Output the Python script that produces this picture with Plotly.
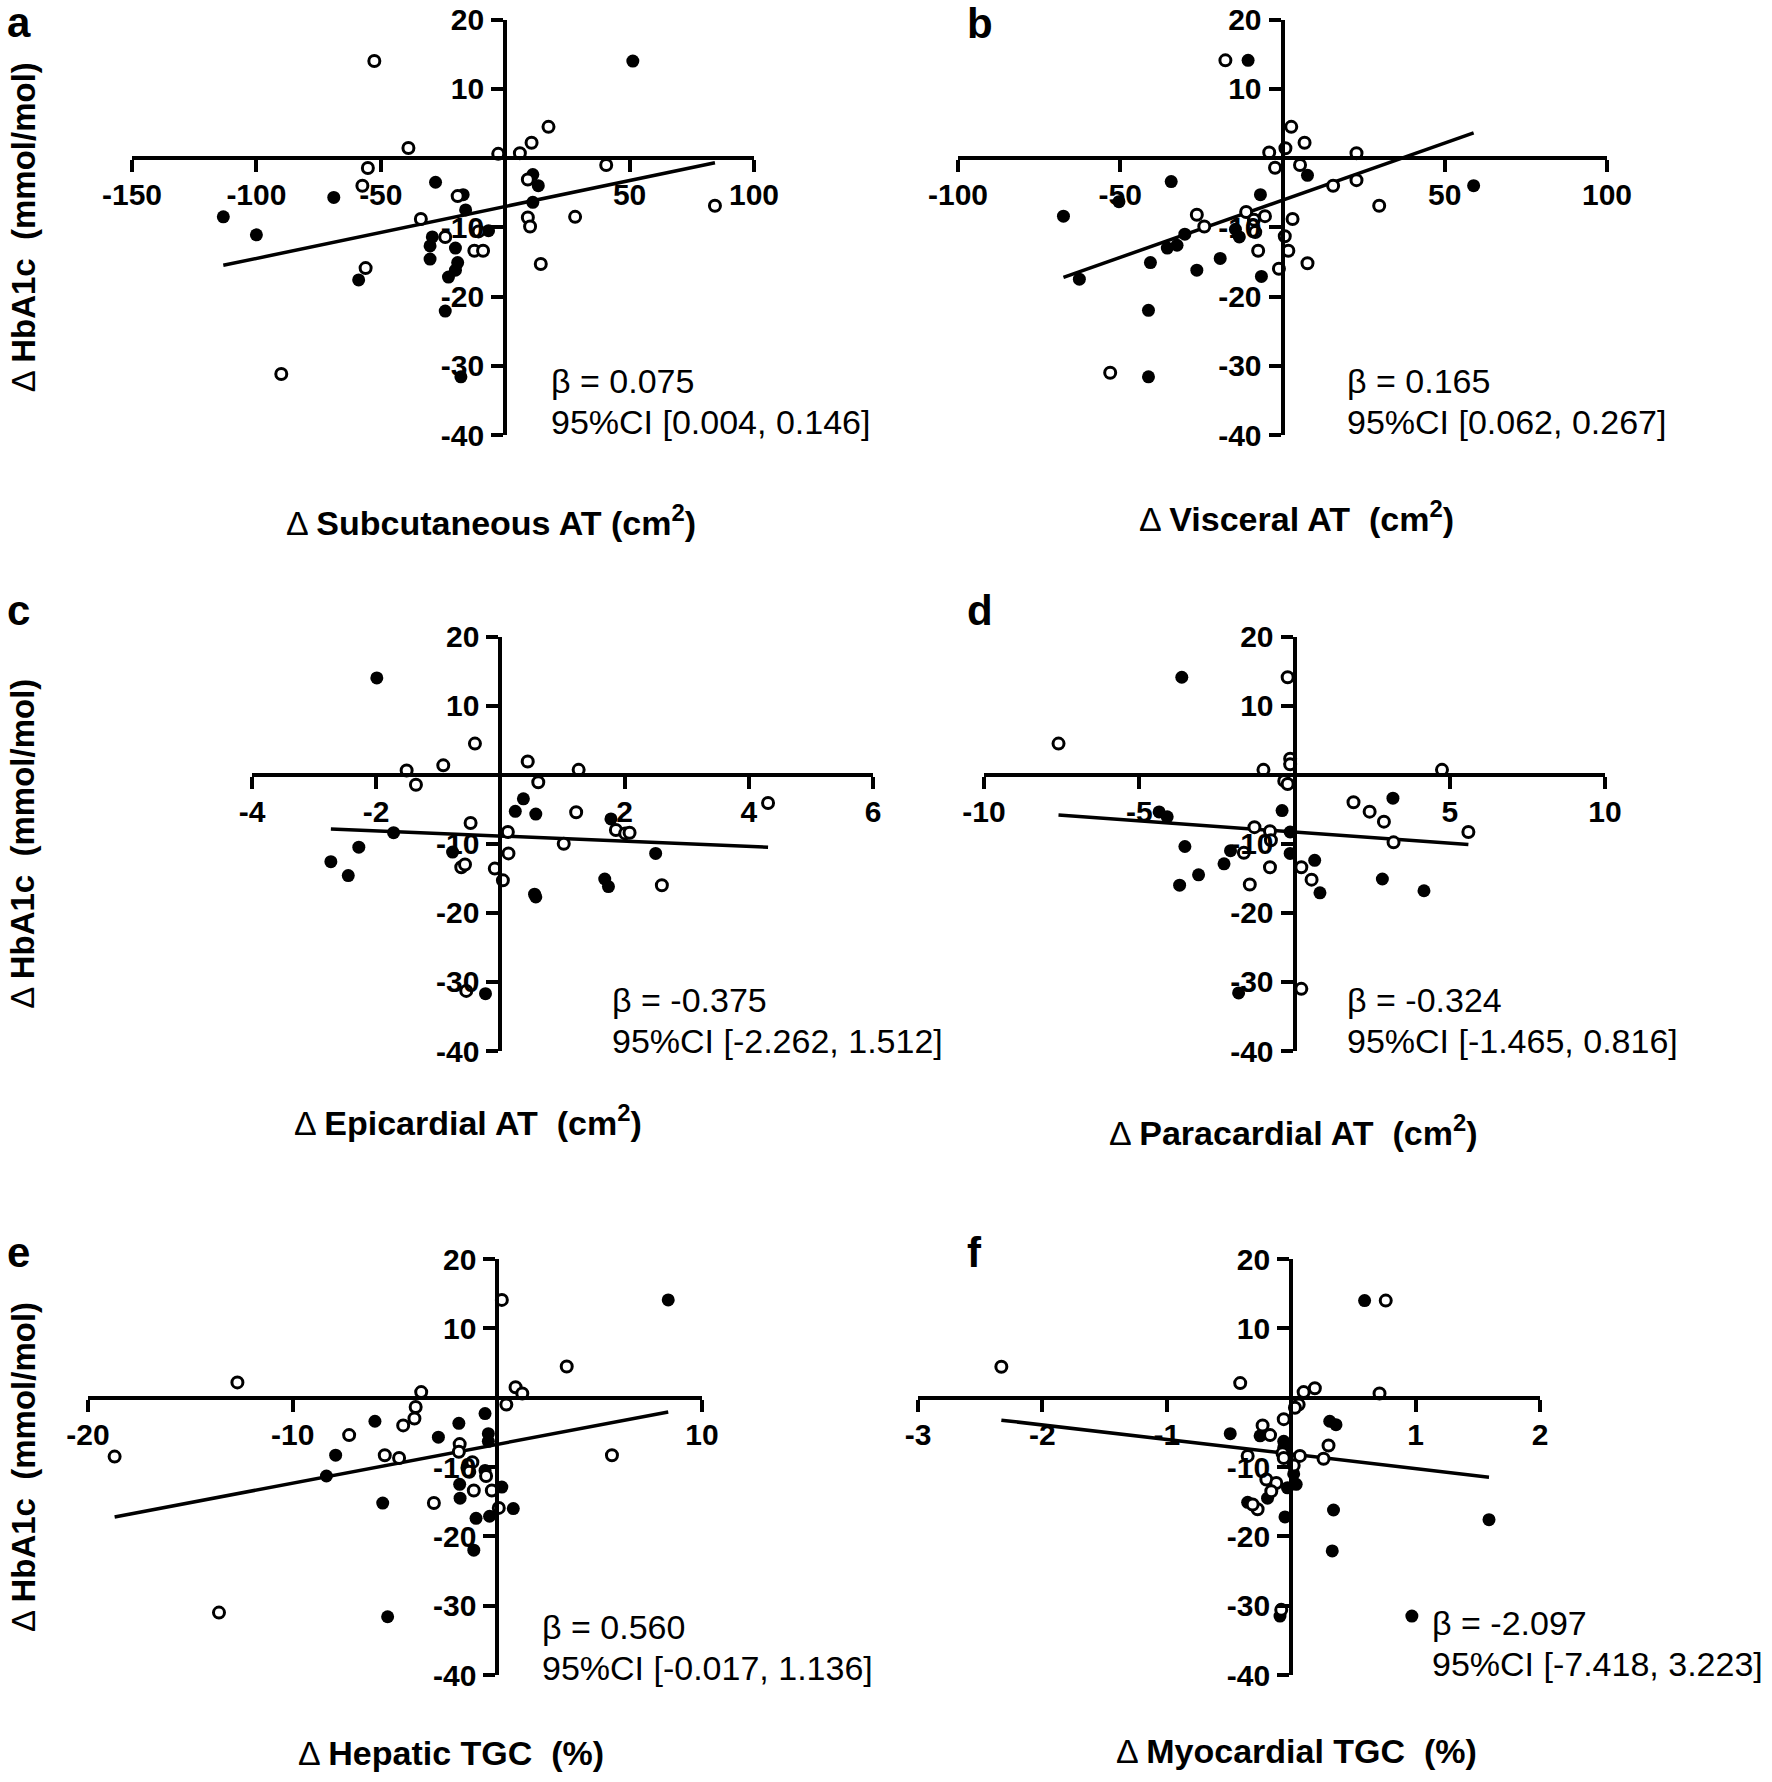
import plotly.graph_objects as go

W, H = 1772, 1782

# ---------------- data ----------------
a_open_x = [-52.6, -38.9, -2.8, 5.9, 10.6, 17.4, -55.2, -57.4, -19.1, 40.6, 9.1, -33.9, -24.1, -10.7, -12.4, -8.9, 9.1, 10.0, 28.1, 14.3, -56.1, -90.0, 84.3]
a_open_y = [14.0, 1.45, 0.6, 0.7, 2.2, 4.5, -1.45, -4.0, -5.5, -1.0, -3.1, -8.8, -11.4, -10.6, -13.4, -13.4, -8.6, -9.9, -8.5, -15.3, -15.9, -31.2, -6.9]
a_fill_x = [51.3, -113.3, -100.0, -68.9, -28.0, -16.9, 11.1, 13.3, 11.1, -15.9, -6.7, -29.3, -30.2, -20.0, -30.2, -19.1, -20.0, -22.8, -58.9, -24.1, -17.8]
a_fill_y = [14.0, -8.5, -11.1, -5.7, -3.5, -5.3, -2.4, -4.0, -6.4, -7.5, -10.5, -11.4, -12.7, -13.0, -14.6, -15.1, -16.2, -17.2, -17.6, -22.1, -31.6]

b_open_x = [-17.6, 2.7, 6.8, -4.1, 0.9, 22.8, 5.4, -2.3, 15.6, 22.8, 29.8, -26.4, -24.1, -11.2, -8.8, -5.4, -8.4, 3.1, 0.7, 1.8, -7.5, -1.1, 7.7, -53.1]
b_open_y = [14.1, 4.5, 2.2, 0.8, 1.4, 0.7, -1.0, -1.4, -4.0, -3.2, -6.9, -8.2, -9.9, -7.8, -8.9, -8.4, -10.7, -8.8, -11.3, -13.4, -13.4, -16.0, -15.2, -31.0]
b_fill_x = [-10.6, 58.9, 7.7, -34.3, -50.4, -67.5, -6.8, -14.5, -13.3, -30.1, -32.5, -35.5, -19.2, -26.4, -40.7, -6.5, -62.6, -41.3, -41.3]
b_fill_y = [14.1, -4.0, -2.5, -3.4, -6.3, -8.4, -5.3, -10.3, -11.4, -11.0, -12.6, -13.0, -14.5, -16.2, -15.1, -17.1, -17.5, -22.0, -31.6]

c_open_x = [-0.41, -0.92, -1.51, -1.36, 0.44, 1.26, 0.61, 4.31, 1.22, -0.48, 0.12, 1.86, 2.01, 2.08, 1.02, 0.13, -0.63, -0.57, -0.09, 0.04, 2.60, -0.55]
c_open_y = [4.5, 1.35, 0.6, -1.45, 1.9, 0.7, -1.1, -4.1, -5.45, -7.0, -8.3, -8.0, -8.5, -8.4, -10.0, -11.4, -13.4, -13.0, -13.6, -15.3, -16.0, -31.3]
c_fill_x = [-1.99, 0.37, 0.24, 0.57, 1.78, -1.72, -2.28, -0.77, -2.73, -2.45, 2.50, 1.68, 1.74, 0.55, 0.57, -0.24]
c_fill_y = [14.0, -3.5, -5.3, -5.7, -6.4, -8.4, -10.5, -11.2, -12.6, -14.6, -11.4, -15.1, -16.2, -17.3, -17.7, -31.7]

d_open_x = [-0.22, -7.6, -1.0, -0.14, -0.14, -0.33, -0.22, 4.75, 1.9, 2.42, 2.88, 5.6, 3.19, -1.29, -0.79, -0.76, -1.63, -0.79, 0.22, 0.55, -1.44, 0.22]
d_open_y = [14.1, 4.5, 0.7, 2.3, 1.5, -0.9, -1.35, 0.7, -4.0, -5.35, -6.8, -8.3, -9.8, -7.6, -8.2, -9.5, -11.3, -13.4, -13.4, -15.2, -15.9, -31.0]
d_fill_x = [-3.63, 3.17, -0.40, -4.36, -4.1, -0.14, -0.14, -3.53, -2.06, -2.27, 0.65, -3.09, -3.70, 2.83, 0.82, 4.17, -1.80]
d_fill_y = [14.1, -3.4, -5.2, -5.4, -6.1, -8.3, -11.4, -10.4, -11.0, -12.9, -12.4, -14.5, -16.0, -15.1, -17.1, -16.8, -31.6]

e_open_x = [0.22, -12.7, 3.39, -3.72, 0.89, 1.22, 0.44, -3.99, -4.05, -4.6, -7.24, -18.7, 5.6, -5.5, -4.8, -1.84, -1.88, -1.22, -1.37, -0.55, -1.15, -0.27, 0.07, -3.1, -13.6]
e_open_y = [14.1, 2.2, 4.5, 0.8, 1.5, 0.6, -1.0, -1.35, -3.0, -4.0, -5.4, -8.5, -8.3, -8.3, -8.7, -6.7, -7.8, -9.3, -10.7, -11.3, -13.4, -13.4, -15.9, -15.2, -31.0]
e_fill_x = [8.35, -5.98, -0.6, -1.88, -0.44, -0.44, -2.88, -7.9, -8.35, -1.48, -0.6, -1.84, 0.22, -1.82, -5.6, 0.78, -0.38, -1.04, -1.15, -5.36]
e_fill_y = [14.1, -3.4, -2.3, -3.7, -5.2, -6.3, -5.7, -8.3, -11.3, -10.1, -10.5, -12.5, -12.9, -14.5, -15.2, -16.0, -17.1, -17.4, -22.0, -31.6]

f_open_x = [0.76, -2.33, -0.41, 0.71, 0.10, 0.19, 0.06, 0.03, -0.06, -0.23, -0.17, 0.30, -0.35, -0.07, -0.06, 0.07, 0.26, 0.02, -0.20, -0.12, -0.16, -0.27, -0.31, -0.08]
f_open_y = [14.0, 4.45, 2.1, 0.6, 0.8, 1.35, -1.0, -1.45, -3.1, -4.0, -5.4, -6.9, -8.4, -8.0, -8.7, -8.4, -8.8, -9.8, -11.8, -12.3, -13.5, -16.1, -15.4, -30.6]
f_fill_x = [0.59, 0.31, 0.36, -0.49, -0.25, -0.06, -0.06, 0.02, -0.03, 0.04, -0.19, -0.35, 0.34, -0.05, 1.59, 0.33, -0.09, 0.97]
f_fill_y = [14.0, -3.4, -3.9, -5.2, -5.5, -6.3, -7.2, -11.0, -13.0, -12.5, -14.5, -15.1, -16.2, -17.2, -17.6, -22.1, -31.5, -31.5]

# regression: slope, intercept
slopes = [0.075, 0.165, -0.375, -0.324, 0.560, -2.097]
intercepts = [-7.0, -6.1, -8.88, -8.3, -6.73, -8.13]
beta_text = ["β = 0.075", "β = 0.165", "β = -0.375", "β = -0.324", "β = 0.560", "β = -2.097"]
ci_text = ["95%CI [0.004, 0.146]", "95%CI [0.062, 0.267]", "95%CI [-2.262, 1.512]",
           "95%CI [-1.465, 0.816]", "95%CI [-0.017, 1.136]", "95%CI [-7.418, 3.223]"]
letters = ["a", "b", "c", "d", "e", "f"]
x_titles = ["Subcutaneous AT (cm<sup>2</sup>)", "Visceral AT  (cm<sup>2</sup>)",
            "Epicardial AT  (cm<sup>2</sup>)", "Paracardial AT  (cm<sup>2</sup>)",
            "Hepatic TGC  (%)", "Myocardial TGC  (%)"]
y_title = "HbA1c  (mmol/mol)"
x_ranges = [[-150, 100], [-100, 100], [-4, 6], [-10, 10], [-20, 10], [-3, 2]]
x_ticks = [[-150, -100, -50, 50, 100], [-100, -50, 50, 100], [-4, -2, 2, 4, 6],
           [-10, -5, 5, 10], [-20, -10, 10], [-3, -2, -1, 1, 2]]
y_range = [-40, 20]
y_ticks = [-40, -30, -20, -10, 10, 20]

data = [
    (a_open_x, a_open_y, a_fill_x, a_fill_y),
    (b_open_x, b_open_y, b_fill_x, b_fill_y),
    (c_open_x, c_open_y, c_fill_x, c_fill_y),
    (d_open_x, d_open_y, d_fill_x, d_fill_y),
    (e_open_x, e_open_y, e_fill_x, e_fill_y),
    (f_open_x, f_open_y, f_fill_x, f_fill_y),
]

# ---------------- layout (target pixel positions in the page) ----------------
OFF = 0  # body margin is removed below, so figure pixels = page pixels
boxes = [  # L, R, T, B of the axis ranges
    (132, 754, 19.5, 435),
    (958, 1607, 19.5, 435),
    (252, 873, 636.5, 1051),
    (984, 1605, 636.5, 1051),
    (88, 702, 1259, 1675),
    (918, 1540, 1259, 1675),
]
xtitle_pos = [(491, 520), (1296, 516), (468, 1120), (1293, 1130), (451, 1753), (1296, 1751)]
ytitle_x = 23
letter_pos = [(5, 37), (965, 38), (5, 625), (965, 625), (5, 1267), (965, 1267)]  # left, baseline
beta_pos = [(549, 381), (1345, 381), (610, 1000), (1345, 1000), (540, 1627), (1430, 1623)]


def px(x):
    return (x - OFF) / W


def py(y):
    return 1 - (y - OFF) / H


FONT = "Liberation Sans, Arial, sans-serif"
fig = go.Figure()
layout = dict(width=W, height=H, margin=dict(l=0, r=0, t=0, b=0, pad=0),
              paper_bgcolor="white", plot_bgcolor="white", showlegend=False,
              annotations=[])

for i in range(6):
    L, R, T, B = boxes[i]
    xr = x_ranges[i]
    sx = "" if i == 0 else str(i + 1)
    y0_px = T + (y_range[1] - 0) / (y_range[1] - y_range[0]) * (B - T)
    x0_px = L + (0 - xr[0]) / (xr[1] - xr[0]) * (R - L)
    layout["xaxis" + sx] = dict(
        domain=[px(L), px(R)], range=xr, anchor="free", position=py(y0_px),
        showline=True, linewidth=4, linecolor="black", ticks="outside",
        ticklen=12, tickwidth=4, tickcolor="black", tickvals=x_ticks[i],
        ticktext=[str(v) for v in x_ticks[i]], showgrid=False, zeroline=False,
        ticklabelstandoff=-3, ticklabeloverflow="allow", automargin=False,
        tickfont=dict(family=FONT, size=30, color="black", weight="bold"))
    layout["yaxis" + sx] = dict(
        domain=[py(B), py(T)], range=y_range, anchor="free", position=px(x0_px),
        showline=True, linewidth=4, linecolor="black", ticks="outside",
        ticklen=12, tickwidth=4, tickcolor="black", tickvals=y_ticks,
        ticktext=[str(v) for v in y_ticks], showgrid=False, zeroline=False,
        ticklabelstandoff=1, ticklabeloverflow="allow", automargin=False,
        tickfont=dict(family=FONT, size=30, color="black", weight="bold"))

    ox, oy, fx, fy = data[i]
    allx = ox + fx
    lx = [min(allx), max(allx)]
    ly = [slopes[i] * v + intercepts[i] for v in lx]
    xa, ya = "x" + sx, "y" + sx
    fig.add_trace(go.Scatter(x=lx, y=ly, mode="lines", xaxis=xa, yaxis=ya,
                             line=dict(color="black", width=3.5), cliponaxis=False))
    fig.add_trace(go.Scatter(x=fx, y=fy, mode="markers", xaxis=xa, yaxis=ya,
                             cliponaxis=False,
                             marker=dict(symbol="circle", size=13, color="black",
                                         line=dict(color="black", width=0))))
    fig.add_trace(go.Scatter(x=ox, y=oy, mode="markers", xaxis=xa, yaxis=ya,
                             cliponaxis=False,
                             marker=dict(symbol="circle", size=11, color="white",
                                         line=dict(color="black", width=3))))

    tx, ty = xtitle_pos[i]
    layout["annotations"].append(dict(
        x=px(tx), y=py(ty), xref="paper", yref="paper", showarrow=False,
        xanchor="center", yanchor="middle",
        text="Δ <b>" + x_titles[i] + "</b>",
        font=dict(family=FONT, size=34, color="black")))
    if i % 2 == 0:
        layout["annotations"].append(dict(
            x=px(ytitle_x), y=py((T + B) / 2), xref="paper", yref="paper",
            showarrow=False, xanchor="center", yanchor="middle", textangle=-90,
            text="Δ <b>" + y_title + "</b>",
            font=dict(family=FONT, size=33, color="black")))
    lxp, lbase = letter_pos[i]
    layout["annotations"].append(dict(
        x=px(lxp), y=py(lbase - 0.35 * 42), xref="paper", yref="paper", showarrow=False,
        xanchor="left", yanchor="middle", text="<b>" + letters[i] + "</b>",
        font=dict(family=FONT, size=42, color="black")))
    bx, by = beta_pos[i]
    layout["annotations"].append(dict(
        x=px(bx), y=py(by), xref="paper", yref="paper", showarrow=False,
        xanchor="left", yanchor="middle", text=beta_text[i],
        font=dict(family=FONT, size=34, color="black")))
    layout["annotations"].append(dict(
        x=px(bx), y=py(by + 41), xref="paper", yref="paper", showarrow=False,
        xanchor="left", yanchor="middle", text=ci_text[i],
        font=dict(family=FONT, size=34, color="black")))

fig.update_layout(**layout)
fig.write_html("out.html", config={"displayModeBar": False},
               post_script="document.body.style.margin='0px';")
